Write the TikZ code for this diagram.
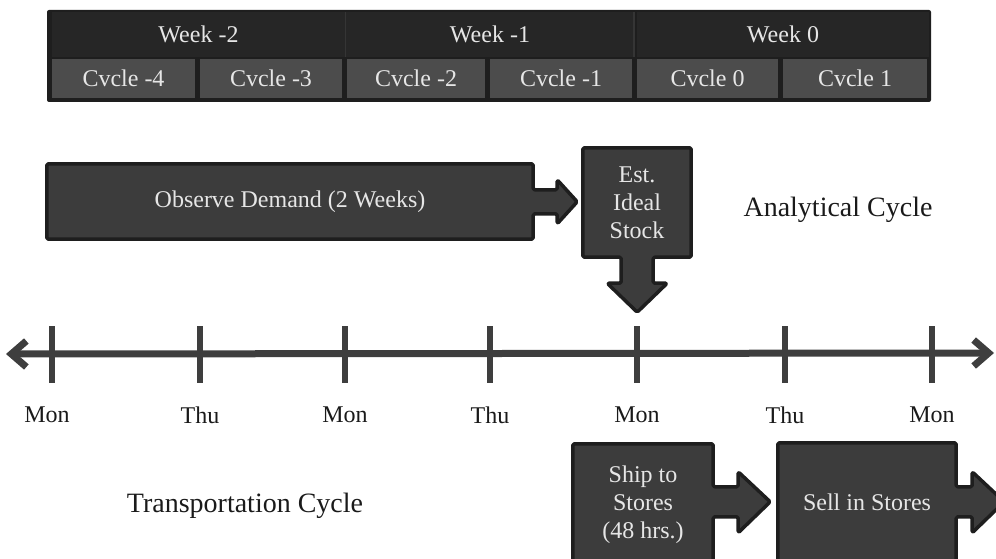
\documentclass[tikz,border=0pt]{standalone}
\usepackage{fontspec}
\setmainfont{Liberation Serif}
\usetikzlibrary{arrows.meta,backgrounds,calc}
\definecolor{boxfill}{HTML}{3C3C3C}
\definecolor{boxline}{HTML}{1E1E1E}
\definecolor{weekfill}{HTML}{262626}
\definecolor{cyclefill}{HTML}{4C4C4C}
\definecolor{txtlight}{HTML}{E6E6E6}
\definecolor{axiscol}{HTML}{3E3E3E}
\definecolor{labcol}{HTML}{1A1A1A}
\tikzset{
  blk/.style={fill=boxfill, draw=boxline, line width=3.5pt, rounded corners=1.5pt, line join=round},
  boxtext/.style={text=txtlight, font=\fontsize{24}{28}\selectfont, align=center, inner sep=0pt},
  weekcell/.style={fill=weekfill, text=txtlight, font=\fontsize{24}{28}\selectfont, inner sep=0pt},
  cyclecell/.style={fill=cyclefill, text=txtlight, font=\fontsize{24}{28}\selectfont, inner sep=0pt, minimum height=39},
  daylab/.style={text=labcol, font=\fontsize{24}{28}\selectfont, inner sep=0pt},
  biglab/.style={text=labcol, font=\fontsize{28}{32}\selectfont, inner sep=0pt},
  tickmark/.style={draw=axiscol, line width=6pt},
}
\begin{document}
\begin{tikzpicture}[x=1pt,y=-1pt]
\useasboundingbox (0,0) rectangle (996,559);
\clip (0,0) rectangle (996,559);

% ---------- banner ----------
\node[fill=boxline, minimum width=884, minimum height=92, inner sep=0pt, rounded corners=2pt] (banner) at (489,56) {};
\node[weekcell, minimum width=294, minimum height=45] (w2) at (198.5,34.5) {Week -2};
\node[weekcell, minimum width=288, minimum height=45] (w1) at (490,34.5) {Week -1};
\node[weekcell, minimum width=292, minimum height=45] (w0) at (783,34.5) {Week 0};
\draw[draw=cyclefill!70!black, line width=1.5pt] (w2.north east) -- (w2.south east);
\draw[draw=cyclefill!70!black, line width=1.5pt] (w1.north east) -- (w1.south east);
\node[cyclecell, minimum width=143] (c4) at (123.5,78.5) {Cvcle -4};
\node[cyclecell, minimum width=142] (c3) at (271,78.5) {Cvcle -3};
\node[cyclecell, minimum width=138] (c2) at (416,78.5) {Cvcle -2};
\node[cyclecell, minimum width=142] (c1) at (561,78.5) {Cvcle -1};
\node[cyclecell, minimum width=141] (c0) at (707.5,78.5) {Cvcle 0};
\node[cyclecell, minimum width=144] (cp1) at (855,78.5) {Cvcle 1};

% ---------- analytical cycle ----------
\node[boxtext, minimum width=486, minimum height=75] (obs) at (290,201.5) {Observe Demand (2 Weeks)};
\node[boxtext, minimum width=108, minimum height=109] (est) at (637,202.5) {Est.\\Ideal\\Stock};
\begin{scope}[on background layer]
\draw[blk] (obs.north west) -- (obs.north east) -- ++(0,26) -- ++(24,0) -- ++(0,-10)
  -- ++(20,22) -- ++(-20,22) -- ++(0,-10) -- ++(-24,0) -- (obs.south east) -- (obs.south west) -- cycle;
\draw[blk] (est.north west) -- (est.north east) -- (est.south east) -- ++(-38,0) -- ++(0,26)
  -- ++(14,0) -- ++(-30,29) -- ++(-30,-29) -- ++(14,0) -- ++(0,-26) -- (est.south west) -- cycle;
\end{scope}
\node[biglab] (anal) at (838,210) {Analytical Cycle};

% ---------- time axis ----------
\coordinate (axL) at (6,354);
\coordinate (axR) at (994,353);
\draw[draw=axiscol, line width=7pt, {Straight Barb[length=15pt,width=26pt]}-{Straight Barb[length=15pt,width=26pt]}] (axL) -- (axR);
\foreach \n/\x/\d in {1/52/Mon, 2/200/Thu, 3/345/Mon, 4/490/Thu, 5/637/Mon, 6/785/Thu, 7/932/Mon}{
  \coordinate (t\n a) at (\x,326);
  \coordinate (t\n b) at (\x,383);
  \draw[tickmark] (t\n a) -- (t\n b);
}
\node[daylab] (d1) at (47,415) {Mon};
\node[daylab] (d2) at (200,415) {Thu};
\node[daylab] (d3) at (345,415) {Mon};
\node[daylab] (d4) at (490,415) {Thu};
\node[daylab] (d5) at (637,415) {Mon};
\node[daylab] (d6) at (785,415) {Thu};
\node[daylab] (d7) at (932,415) {Mon};

% ---------- transportation cycle ----------
\node[boxtext, minimum width=140, minimum height=126] (ship) at (643,507) {};
\node[boxtext, minimum width=178, minimum height=127] (sell) at (867,506.5) {};
\begin{scope}[on background layer]
\draw[blk] (ship.south west) -- (ship.north west) -- (ship.north east) -- ++(0,43) -- ++(25,0) -- ++(0,-15)
  -- ++(32,30) -- ++(-32,31) -- ++(0,-16) -- ++(-25,0) -- (ship.south east) -- cycle;
\draw[blk] (sell.south west) -- (sell.north west) -- (sell.north east) -- ++(0,44) -- ++(16,0) -- ++(0,-15)
  -- ++(32,30) -- ++(-32,31) -- ++(0,-16) -- ++(-16,0) -- (sell.south east) -- cycle;
\end{scope}
\node[boxtext] (shiptxt) at (643,505) {Ship to\\Stores\\(48 hrs.)};
\node[boxtext] (selltxt) at (867,502) {Sell in Stores};
\node[biglab] (trans) at (245,506) {Transportation Cycle};
\end{tikzpicture}
\end{document}
